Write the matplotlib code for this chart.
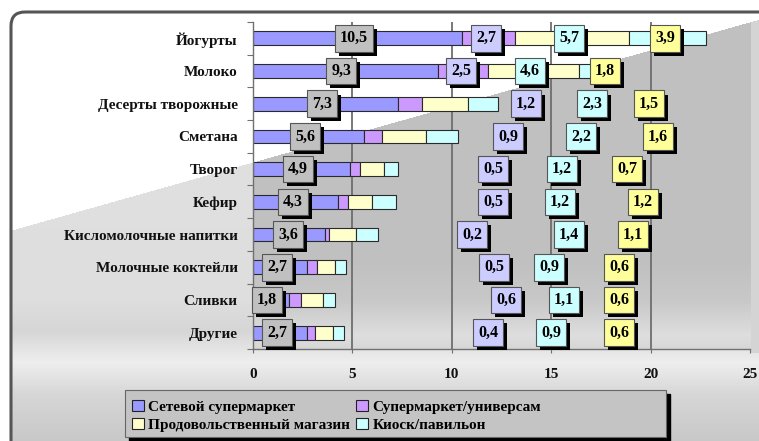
import numpy as np
import matplotlib
matplotlib.use("Agg")
import matplotlib.pyplot as plt
from matplotlib import patheffects
from matplotlib.patches import FancyBboxPatch, Rectangle, Patch

# ---------------- data ----------------
categories = ["Йогурты", "Молоко", "Десерты творожные", "Сметана", "Творог",
              "Кефир", "Кисломолочные напитки", "Молочные коктейли", "Сливки", "Другие"]
series_names = ["Сетевой супермаркет", "Супермаркет/универсам",
                "Продовольственный магазин", "Киоск/павильон"]
chain_super = [10.5, 9.3, 7.3, 5.6, 4.9, 4.3, 3.6, 2.7, 1.8, 2.7]
super_univ = [2.7, 2.5, 1.2, 0.9, 0.5, 0.5, 0.2, 0.5, 0.6, 0.4]
food_store = [5.7, 4.6, 2.3, 2.2, 1.2, 1.2, 1.4, 0.9, 1.1, 0.9]
kiosk = [3.9, 1.8, 1.5, 1.6, 0.7, 1.2, 1.1, 0.6, 0.6, 0.6]
x_ticks = [0, 5, 10, 15, 20, 25]

# manual label placements (layout, x in data units per series)
label_x = [
    [5.08, 4.43, 3.47, 2.62, 2.26, 2.01, 1.76, 1.21, 0.70, 1.21],
    [11.72, 10.46, 13.73, 12.83, 12.07, 12.07, 11.02, 12.12, 12.73, 11.82],
    [15.90, 13.93, 17.05, 16.50, 15.54, 15.44, 15.90, 14.89, 15.64, 14.99],
    [20.72, 17.71, 19.92, 20.37, 18.81, 19.62, 19.11, 18.41, 18.41, 18.41],
]

bar_colors = ["#9999FF", "#CC99FF", "#FFFFCC", "#CCFFFF"]
box_colors = ["#C0C0C0", "#CCCCFF", "#CCFFFF", "#FFFF99"]
FONT = ["Liberation Serif", "DejaVu Serif"]

W, H = 759, 441
fig = plt.figure(figsize=(W / 100, H / 100), dpi=100)

# ---------------- background ----------------
bg = fig.add_axes([0, 0, 1, 1], zorder=-10)
bg.set_xlim(0, W)
bg.set_ylim(H, 0)
bg.axis("off")
yy, xx = np.mgrid[0:H, 0:W].astype(float)
diag = 229 - 0.282 * (xx - 15)
below = yy > diag
prof_y = np.array([0, 300, 330, 362, 395, 441])
prof_v = np.array([226, 222, 214, 238, 214, 200])
fig_gray = np.interp(yy, prof_y, prof_v)
img = np.where(below, fig_gray, 255.0)
inplot = (xx >= 253) & (xx <= 750) & (yy >= 22) & (yy <= 349)
pl_y = np.array([0, 260, 300, 335, 349])
pl_v = np.array([192, 192, 200, 222, 214])
plot_gray = np.interp(yy, pl_y, pl_v)
img = np.where(inplot & below, plot_gray, img)
img = np.where(inplot & ~below, 255.0, img)
strip = (xx > 750) & (yy >= 18) & (yy <= 352)
img = np.where(strip & below, 212.0, img)
img = np.where((xx < 10) | (yy < 11), 255.0, img)
rgb = np.repeat((img / 255.0)[:, :, None], 3, axis=2)
bg.imshow(rgb, extent=(0, W, H, 0), aspect="auto", interpolation="bilinear")
frame = FancyBboxPatch((11, 12), W + 40, H + 40,
                       boxstyle="round,pad=0,rounding_size=14",
                       facecolor="none", edgecolor="#555555", linewidth=2.2)
bg.add_patch(frame)

# ---------------- main plot ----------------
ax = fig.add_axes([253 / W, 1 - 349 / H, 497 / W, 327 / H])
ax.set_facecolor("none")
ax.set_xlim(0, 25)
ax.set_ylim(len(categories) - 0.5, -0.5)
y = np.arange(len(categories))

for g in [5, 10, 15, 20]:
    ax.axvline(g, color="#6e6e6e", linewidth=1.3, zorder=1)

series = [chain_super, super_univ, food_store, kiosk]
left = np.zeros(len(categories))
for vals, col in zip(series, bar_colors):
    ax.barh(y, vals, left=left, height=0.42, color=col,
            edgecolor="#2a2a2a", linewidth=0.8, zorder=2)
    left = left + np.array(vals)

shadow_fx = [patheffects.SimplePatchShadow(offset=(2.9, -2.9), shadow_rgbFace="black",
                                           alpha=1.0),
             patheffects.Normal()]
for s, vals in enumerate(series):
    for i, v in enumerate(vals):
        txt = f"{v:.1f}".replace(".", ",")
        t = ax.text(label_x[s][i], i, txt, color="black", ha="center", va="center",
                    fontsize=11.5, fontweight="bold", family=FONT, zorder=5,
                    bbox=dict(boxstyle="square,pad=0.33", facecolor=box_colors[s],
                              edgecolor="#555555", linewidth=0.8))
        t.get_bbox_patch().set_path_effects(shadow_fx)

for sp in ["top", "right"]:
    ax.spines[sp].set_visible(False)
for sp in ["left", "bottom"]:
    ax.spines[sp].set_color("#707070")
    ax.spines[sp].set_linewidth(1.0)

ax.set_yticks(np.arange(-0.5, len(categories), 1.0))
ax.set_yticklabels([])
ax.tick_params(axis="y", which="major", length=4, direction="out", color="#707070")
ax.set_yticks(y, minor=True)
ax.set_yticklabels(categories, minor=True)
ax.tick_params(axis="y", which="minor", length=0, pad=11)
ax.set_xticks(x_ticks)
ax.set_xticklabels([str(t) for t in x_ticks])
ax.tick_params(axis="x", length=3, direction="out", color="#707070", pad=11)
for lab in ax.get_yticklabels(minor=True):
    lab.set_fontfamily(FONT)
    lab.set_fontweight("bold")
    lab.set_fontsize(11)
    lab.set_color("#111111")
for lab in ax.get_xticklabels():
    lab.set_fontfamily(FONT)
    lab.set_fontweight("bold")
    lab.set_fontsize(11)
    lab.set_color("#111111")

# ---------------- legend ----------------
lx0, ly0, lx1, ly1 = 125, 390, 666, 437
bg.add_patch(Rectangle((lx0 + 4, ly0 + 4), lx1 - lx0, ly1 - ly0,
                       facecolor="black", edgecolor="black", zorder=3))
bg.add_patch(Rectangle((lx0, ly0), lx1 - lx0, ly1 - ly0,
                       facecolor="#c4c4c4", edgecolor="#666666", linewidth=0.8,
                       zorder=4))
handles = [Patch(facecolor=c, edgecolor="#222222", linewidth=0.8) for c in bar_colors]
order = [0, 2, 1, 3]
leg = fig.legend([handles[k] for k in order], [series_names[k] for k in order],
                 ncol=2, loc="upper left",
                 bbox_to_anchor=((lx0 - 5) / W, 1 - (ly0 - 2) / H),
                 frameon=False, handlelength=0.75, handleheight=0.75,
                 handletextpad=0.3, columnspacing=0.4, labelspacing=0.25,
                 borderpad=0.3,
                 prop=dict(family=FONT, weight="bold", size=11))
leg.set_zorder(10)

fig.savefig("out.png", dpi=100)
